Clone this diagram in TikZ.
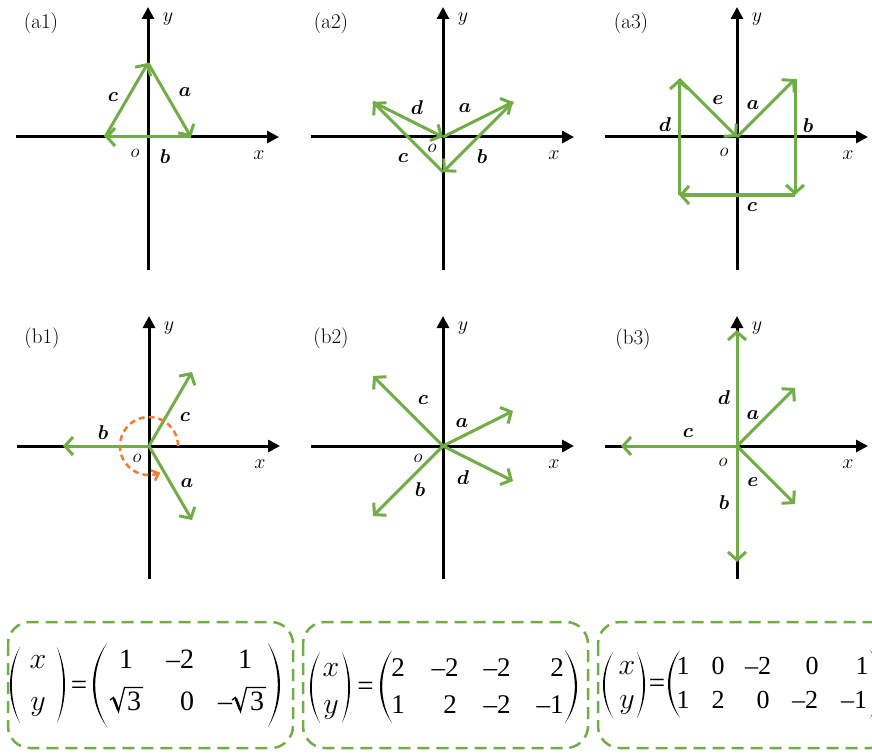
\RequirePackage{fix-cm}
\documentclass[tikz,border=0pt]{standalone}
\usepackage{fontspec}
\usepackage{bm}
\usetikzlibrary{arrows.meta}
\newfontfamily\timesfnt{Liberation Serif}
\definecolor{vgreen}{RGB}{112,173,71}
\definecolor{vorange}{RGB}{237,125,49}
\newcommand{\mypar}[5]{%
  \pgfmathsetmacro{\pcO}{(#2-0.25*#1)/0.75}%
  \pgfmathsetmacro{\pcI}{(#2+#5-0.25*#1)/0.75}%
  \pgfmathsetmacro{\pyA}{#3+0.3*(#4-#3)}%
  \pgfmathsetmacro{\pyB}{#4-0.3*(#4-#3)}%
  \fill (#1,#3) .. controls (\pcO,\pyA) and (\pcO,\pyB) .. (#1,#4)
     .. controls (\pcI,\pyB) and (\pcI,\pyA) .. (#1,#3) -- cycle;}
% radical sign: #1 left x, #2 baseline y, #3 end x of the bar
\newcommand{\myrad}[3]{%
  \draw[line width=1.3pt,line join=miter] ({#1},{#2-10}) -- ({#1+3.5},{#2-12.5})
     -- ({#1+8.5},{#2+1.5}) -- ({#1+14.5},{#2-22.5}) -- ({#3},{#2-22.5});
  \draw[line width=2.6pt] ({#1+3.8},{#2-11.5}) -- ({#1+8.3},{#2});}
\newcommand{\myaxes}[3]{%
  \coordinate (#1O) at (#2,#3);
  \coordinate (#1L) at ({#2-132},#3);
  \coordinate (#1R) at ({#2+131},#3);
  \coordinate (#1B) at (#2,{#3+133});
  \coordinate (#1T) at (#2,{#3-130});
  \draw[axis] (#1L) -- (#1R);
  \draw[axis] (#1B) -- (#1T);
  \node[axlab] (#1x) at ({#2+111},{#3+18}) {$x$};
  \node[axlab] (#1y) at ({#2+20},{#3-118}) {$y$};}
\begin{document}
\begin{tikzpicture}[x=1pt,y=-1pt,
  axis/.style={line width=3pt,-{Triangle[length=12pt,width=12pt]}},
  vec/.style={draw=vgreen,line width=3pt,-{Straight Barb[length=8pt,width=18pt]}},
  vlab/.style={font=\fontsize{20}{24}\selectfont,inner sep=0pt},
  axlab/.style={font=\fontsize{20}{24}\selectfont,inner sep=0pt},
  olab/.style={font=\fontsize{19}{22}\selectfont,inner sep=0pt},
  plab/.style={font=\fontsize{21}{25}\selectfont,inner sep=0pt},
  dbox/.style={draw=vgreen,line width=2.5pt,dash pattern=on 12pt off 7pt,rounded corners=22pt},
  mA/.style={font=\timesfnt\fontsize{28}{32}\selectfont,inner sep=0pt,anchor=base},
  mB/.style={font=\timesfnt\fontsize{27}{31}\selectfont,inner sep=0pt,anchor=base},
  mC/.style={font=\timesfnt\fontsize{26}{30}\selectfont,inner sep=0pt,anchor=base},
  mxy/.style={font=\fontsize{30}{34}\selectfont,inner sep=0pt,anchor=base},
  meq/.style={font=\timesfnt\fontsize{29}{33}\selectfont,inner sep=0pt,anchor=base}]
\useasboundingbox (0,0) rectangle (872,754);
\clip (0,0) rectangle (872,754);

% ---------- (a1)
\myaxes{a1}{148}{137}
\node[plab] (a1p) at (41,23) {(a1)};
\node[olab] (a1o) at (135,153) {$o$};
\coordinate (a1P) at (148,63);
\coordinate (a1Q) at (191,137);
\coordinate (a1S) at (105,137);
\draw[vec] (a1P) -- (a1Q);
\draw[vec] (a1Q) -- (a1S);
\draw[vec] (a1S) -- (a1P);
\node[vlab] (a1la) at (185,92) {$\bm{a}$};
\node[vlab] (a1lb) at (165,157) {$\bm{b}$};
\node[vlab] (a1lc) at (113,97) {$\bm{c}$};

% ---------- (a2)
\myaxes{a2}{443}{137}
\node[plab] (a2p) at (331,23) {(a2)};
\node[olab] (a2o) at (432,148) {$o$};
\coordinate (a2A) at (513,102);
\coordinate (a2B) at (443,172);
\coordinate (a2C) at (373,102);
\draw[vec] (a2O) -- (a2A);
\draw[vec] (a2A) -- (a2B);
\draw[vec] (a2B) -- (a2C);
\draw[vec] (a2C) -- (a2O);
\node[vlab] (a2ld) at (417,108) {$\bm{d}$};
\node[vlab] (a2la) at (465,108) {$\bm{a}$};
\node[vlab] (a2lc) at (403,158) {$\bm{c}$};
\node[vlab] (a2lb) at (482,157) {$\bm{b}$};

% ---------- (a3)
\myaxes{a3}{737}{137}
\node[plab] (a3p) at (631,23) {(a3)};
\node[olab] (a3o) at (724,152) {$o$};
\coordinate (a3A) at (795,79);
\coordinate (a3B) at (795,195);
\coordinate (a3C) at (679,195);
\coordinate (a3D) at (679,79);
\draw[vec] (a3O) -- (a3A);
\draw[vec] (a3A) -- (a3B);
\draw[vec] (a3B) -- (a3C);
\draw[vec] (a3C) -- (a3D);
\draw[vec] (a3D) -- (a3O);
\node[vlab] (a3le) at (718,100) {$\bm{e}$};
\node[vlab] (a3la) at (753,105) {$\bm{a}$};
\node[vlab] (a3ld) at (665,125) {$\bm{d}$};
\node[vlab] (a3lb) at (808,126) {$\bm{b}$};
\node[vlab] (a3lc) at (752,207) {$\bm{c}$};

% ---------- (b1)
\myaxes{b1}{149}{446}
\node[plab] (b1p) at (42,338) {(b1)};
\node[olab] (b1o) at (137,458) {$o$};
\coordinate (b1C) at (192,372);
\coordinate (b1Bv) at (63,446);
\coordinate (b1A) at (192,520);
\draw[vec] (b1O) -- (b1C);
\draw[vec] (b1O) -- (b1Bv);
\draw[vec] (b1O) -- (b1A);
\draw[draw=vorange,line width=2.5pt,dash pattern=on 6pt off 4pt,
  -{Straight Barb[length=6pt,width=11pt]}]
  plot[domain=0:293,samples=80] ({149+29*cos(\x)},{446-29*sin(\x)});
\node[vlab] (b1lc) at (185,417) {$\bm{c}$};
\node[vlab] (b1lb) at (103,433) {$\bm{b}$};
\node[vlab] (b1la) at (187,483) {$\bm{a}$};

% ---------- (b2)
\myaxes{b2}{443}{446}
\node[plab] (b2p) at (331,338) {(b2)};
\node[olab] (b2o) at (418,458) {$o$};
\coordinate (b2A) at (513,411);
\coordinate (b2C) at (373,376);
\coordinate (b2Bv) at (373,516);
\coordinate (b2D) at (513,481);
\draw[vec] (b2O) -- (b2A);
\draw[vec] (b2O) -- (b2C);
\draw[vec] (b2O) -- (b2Bv);
\draw[vec] (b2O) -- (b2D);
\node[vlab] (b2lc) at (423,400) {$\bm{c}$};
\node[vlab] (b2la) at (462,423) {$\bm{a}$};
\node[vlab] (b2ld) at (463,478) {$\bm{d}$};
\node[vlab] (b2lb) at (420,490) {$\bm{b}$};

% ---------- (b3)
\myaxes{b3}{737}{446}
\node[plab] (b3p) at (633,339) {(b3)};
\node[olab] (b3o) at (723,462) {$o$};
\coordinate (b3D) at (737,330);
\coordinate (b3A) at (795,388);
\coordinate (b3C) at (621,446);
\coordinate (b3E) at (795,504);
\coordinate (b3Bv) at (737,562);
\draw[vec] (b3O) -- (b3D);
\draw[vec] (b3O) -- (b3A);
\draw[vec] (b3O) -- (b3C);
\draw[vec] (b3O) -- (b3E);
\draw[vec] (b3O) -- (b3Bv);
\node[vlab] (b3ld) at (724,398) {$\bm{d}$};
\node[vlab] (b3la) at (753,415) {$\bm{a}$};
\node[vlab] (b3lc) at (688,433) {$\bm{c}$};
\node[vlab] (b3le) at (753,482) {$\bm{e}$};
\node[vlab] (b3lb) at (724,503) {$\bm{b}$};

% ---------- boxes
\draw[dbox] (8,622) rectangle (293,748);
\draw[dbox] (303,622) rectangle (588,748);
\draw[dbox] (598,622) rectangle (892,748);

% ---------- matrix 1
\mypar{20}{10}{647}{723}{1.8}
\mypar{57}{65}{647}{723}{-1.8}
\mypar{107}{93}{643}{727}{2.2}
\mypar{268}{280}{643}{727}{-2.2}
\node[mxy] (m1x) at (38,668) {$x$};
\node[mxy] (m1y) at (38,710) {$y$};
\node[meq] (m1eq) at (79,694) {=};
\node[mA] (m1a) at (126,668) {1};
\node[mA] (m1b) at (180,668) {–2};
\node[mA] (m1c) at (245,668) {1};
\myrad{110}{710}{143}
\node[mA] (m1d) at (134,710) {3};
\node[mA] (m1e) at (187,710) {0};
\node[mA] (m1f) at (225,710) {–};
\myrad{232}{710}{266}
\node[mA] (m1g) at (257,710) {3};

% ---------- matrix 2
\mypar{320}{310}{652}{723}{1.8}
\mypar{342}{350}{652}{723}{-1.8}
\mypar{392}{380}{650}{723}{2.2}
\mypar{565}{577}{650}{723}{-2.2}
\node[mxy] (m2x) at (331,676) {$x$};
\node[mxy] (m2y) at (331,713) {$y$};
\node[meq] (m2eq) at (365.5,695) {=};
\node[mB] (m2a) at (398,676) {2};
\node[mB] (m2b) at (445,676) {–2};
\node[mB] (m2c) at (497,676) {–2};
\node[mB] (m2d) at (557,676) {2};
\node[mB] (m2e) at (398,713) {1};
\node[mB] (m2f) at (450,713) {2};
\node[mB] (m2g) at (497,713) {–2};
\node[mB] (m2h) at (550,713) {–1};

% ---------- matrix 3
\mypar{613}{603}{652}{718}{1.8}
\mypar{637}{645}{652}{718}{-1.8}
\mypar{680}{668}{650}{718}{2.2}
\mypar{870}{882}{650}{718}{-2.2}
\node[mxy] (m3x) at (627,674) {$x$};
\node[mxy] (m3y) at (627,708) {$y$};
\node[meq] (m3eq) at (657,692) {=};
\node[mC] (m3a) at (683,674) {1};
\node[mC] (m3b) at (718,674) {0};
\node[mC] (m3c) at (758,674) {–2};
\node[mC] (m3d) at (812,674) {0};
\node[mC] (m3e) at (862,674) {1};
\node[mC] (m3f) at (683,708) {1};
\node[mC] (m3g) at (718,708) {2};
\node[mC] (m3h) at (763,708) {0};
\node[mC] (m3i) at (805,708) {–2};
\node[mC] (m3j) at (854,708) {–1};
\end{tikzpicture}
\end{document}
